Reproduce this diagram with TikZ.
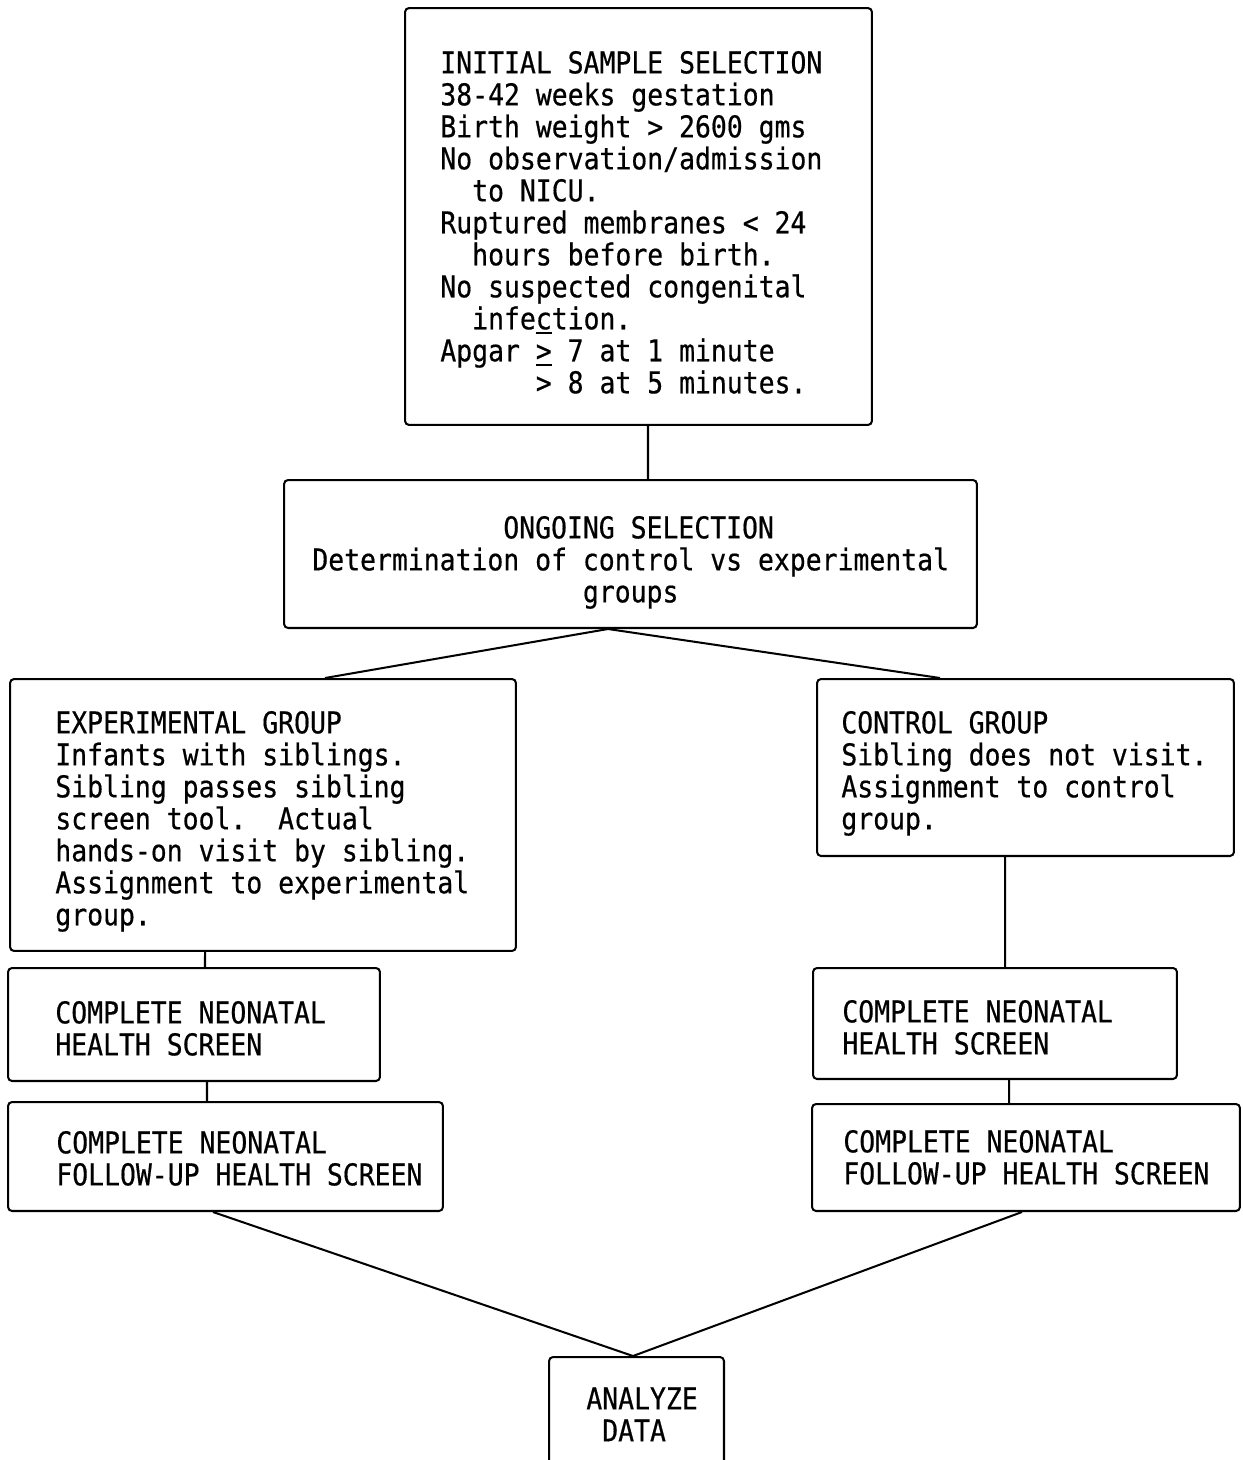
\documentclass[tikz,border=0pt]{standalone}
\usepackage{fontspec}
\newfontfamily\tw[FakeStretch=0.88,FakeBold=0.5]{DejaVu Sans Mono}
\newcommand\fstrut{\rule{0pt}{0.5cm}}
\newcommand\gtbar[1]{\smash{\makebox[0pt][l]{\raisebox{#1}{\rule{9pt}{1.1pt}}}}>}
\begin{document}
\begin{tikzpicture}[x=0.02cm,y=-0.02cm,
  box/.style={draw, line width=1.15pt, rounded corners=0.08cm, rectangle, inner sep=0pt},
  tx/.style={font={\tw\fontsize{17.1pt}{18.21pt}\selectfont}, anchor=north west, inner sep=0pt, align=left},
  link/.style={line width=1.15pt}]
\useasboundingbox (0,0) rectangle (1242,1460);
\fill[white] (0,0) rectangle (1242,1460);
\clip (0,0) rectangle (1242,1460);

% boxes
\node[box, minimum width=9.34cm, minimum height=8.34cm] (init) at (638.5,216.5) {};
\node[box, minimum width=13.86cm, minimum height=2.96cm] (ong) at (630.5,554) {};
\node[box, minimum width=10.12cm, minimum height=5.44cm] (exp) at (263,815) {};
\node[box, minimum width=8.34cm, minimum height=3.54cm] (ctrl) at (1025.5,767.5) {};
\node[box, minimum width=7.44cm, minimum height=2.26cm] (cnhsL) at (194,1024.5) {};
\node[box, minimum width=8.70cm, minimum height=2.18cm] (fuL) at (225.5,1156.5) {};
\node[box, minimum width=7.28cm, minimum height=2.22cm] (cnhsR) at (995,1023.5) {};
\node[box, minimum width=8.56cm, minimum height=2.14cm] (fuR) at (1026,1157.5) {};
\node[box, minimum width=3.5cm, minimum height=2.26cm] (ana) at (636.5,1413.5) {};

% texts
\node[tx] (tinit) at (440,48) {\fstrut INITIAL SAMPLE SELECTION\\
38-42 weeks gestation\\
Birth weight > 2600 gms\\
No observation/admission\\
\phantom{xx}to NICU.\\
Ruptured membranes < 24\\
\phantom{xx}hours before birth.\\
No suspected congenital\\
\phantom{xx}infection.\\
Apgar \gtbar{15.8pt} 7 at 1 minute\\
\phantom{xxxxxx}\gtbar{15.3pt} 8 at 5 minutes.};

\node[tx] (tong) at (312,513) {\fstrut\phantom{xxxxxxxxxxxx}ONGOING SELECTION\\
Determination of control vs experimental\\
\phantom{xxxxxxxxxxxxxxxxx}groups};

\node[tx] (texp) at (55,708) {\fstrut EXPERIMENTAL GROUP\\
Infants with siblings.\\
Sibling passes sibling\\
screen tool.\phantom{xx}Actual\\
hands-on visit by sibling.\\
Assignment to experimental\\
group.};

\node[tx] (tctrl) at (841,708) {\fstrut CONTROL GROUP\\
Sibling does not visit.\\
Assignment to control\\
group.};

\node[tx] (tcnhsL) at (55,998) {\fstrut COMPLETE NEONATAL\\HEALTH SCREEN};
\node[tx] (tfuL) at (56,1128) {\fstrut COMPLETE NEONATAL\\FOLLOW-UP HEALTH SCREEN};
\node[tx] (tcnhsR) at (842,997) {\fstrut COMPLETE NEONATAL\\HEALTH SCREEN};
\node[tx] (tfuR) at (843,1127) {\fstrut COMPLETE NEONATAL\\FOLLOW-UP HEALTH SCREEN};
\node[tx] (tana) at (586,1384) {\fstrut ANALYZE\\\phantom{x}DATA};

% connectors
\draw[link] ([xshift=0.19cm]init.south) -- ([xshift=0.35cm]ong.north);
\draw[link] ([xshift=1.24cm]exp.north) -- ([xshift=-0.45cm]ong.south) -- ([xshift=-1.71cm]ctrl.north);
\draw[link] ([xshift=-1.16cm]exp.south) -- ([xshift=0.22cm]cnhsL.north);
\draw[link] ([xshift=0.26cm]cnhsL.south) -- ([xshift=-0.37cm]fuL.north);
\draw[link] ([xshift=-0.41cm]ctrl.south) -- ([xshift=0.2cm]cnhsR.north);
\draw[link] ([xshift=0.28cm]cnhsR.south) -- ([xshift=-0.34cm]fuR.north);
\draw[link] ([xshift=-0.25cm]fuL.south) -- ([xshift=-0.07cm]ana.north) -- ([xshift=-0.08cm]fuR.south);
\end{tikzpicture}
\end{document}
